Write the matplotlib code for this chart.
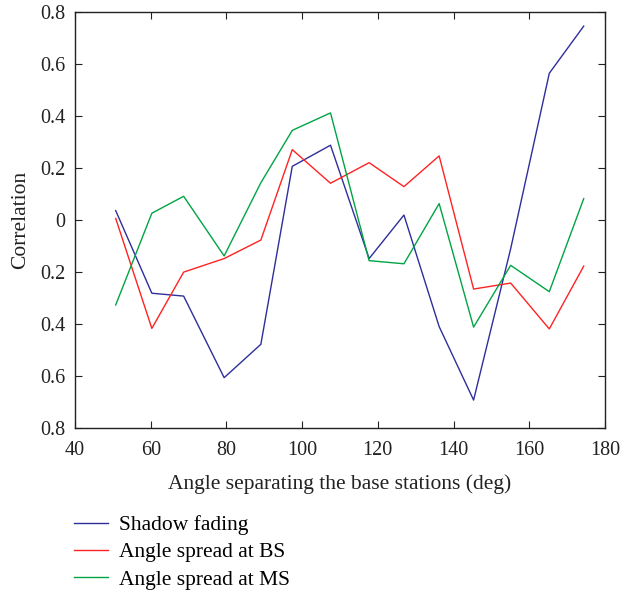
import matplotlib
matplotlib.use("Agg")
import matplotlib.pyplot as plt

angles = [50.75, 60.3, 68.7, 79.4, 89.1, 97.4, 107.5, 117.7, 126.9, 136.2, 145.3, 155.1, 165.3, 174.4]
shadow_fading = [0.036, -0.281, -0.292, -0.605, -0.477, 0.206, 0.287, -0.148, 0.019, -0.409, -0.691, -0.11, 0.563, 0.744]
spread_bs = [0.006, -0.416, -0.200, -0.148, -0.077, 0.270, 0.141, 0.220, 0.128, 0.246, -0.265, -0.242, -0.418, -0.177]
spread_ms = [-0.326, 0.026, 0.091, -0.138, 0.143, 0.344, 0.411, -0.156, -0.168, 0.063, -0.411, -0.174, -0.275, 0.082]

xticks = [40, 60, 80, 100, 120, 140, 160, 180]
yticks = [0.8, 0.6, 0.4, 0.2, 0, -0.2, -0.4, -0.6, -0.8]
ytick_labels = ["0.8", "0.6", "0.4", "0.2", "0", "0.2", "0.4", "0.6", "0.8"]

plt.rcParams['font.family'] = ['Liberation Serif', 'DejaVu Serif']
fig = plt.figure(figsize=(6.23, 5.91), dpi=100)
ax = fig.add_axes([0.1204, 0.275, 0.971 - 0.1204, 0.9805 - 0.275])

l1, = ax.plot(angles, shadow_fading, color='#2e2e9c', lw=1.0, label='Shadow fading')
l2, = ax.plot(angles, spread_bs, color='#ff2222', lw=1.0, label='Angle spread at BS')
l3, = ax.plot(angles, spread_ms, color='#00a444', lw=1.0, label='Angle spread at MS')

ax.set_xlim(40, 180)
ax.set_ylim(-0.8, 0.8)
ax.set_xticks(xticks)
ax.set_yticks(yticks)
ax.set_yticklabels(ytick_labels)
ax.tick_params(direction='in', top=True, right=True, labelsize=14.5, length=5,
               color='#222222', labelcolor='#222222')
ax.tick_params(axis='x', pad=9)
ax.tick_params(axis='y', pad=7)
for s in ax.spines.values():
    s.set_linewidth(1.0)
    s.set_color('#222222')
ax.set_xlabel('Angle separating the base stations (deg)', fontsize=15.5, color='#222222', labelpad=10)
ax.set_ylabel('Correlation', fontsize=15.5, color='#222222', labelpad=7)

fig.legend(handles=[l1, l2, l3], loc='upper left', bbox_to_anchor=(0.105, 0.143),
           frameon=False, fontsize=15.5, handlelength=1.6, handletextpad=0.5,
           labelspacing=0.33, borderaxespad=0.0)

fig.savefig('out.png', dpi=100)
